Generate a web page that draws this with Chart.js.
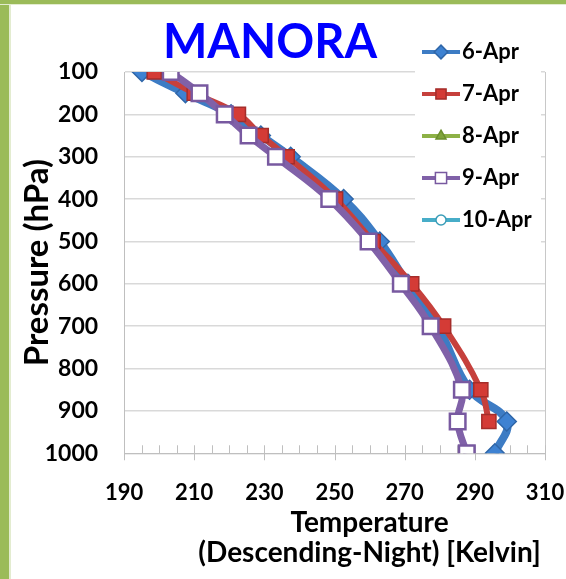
<!DOCTYPE html>
<html>
<head>
<meta charset="utf-8">
<script src="https://cdn.jsdelivr.net/npm/chart.js@4.4.1/dist/chart.umd.min.js"></script>
<style>
  html, body { margin: 0; padding: 0; background: #fff; }
  #wrap { position: relative; width: 566px; height: 579px; overflow: hidden; background: #fff; }
  #wrap canvas { position: absolute; left: 0; top: 0; }
  .frame { position: absolute; background: #9BBB59; }
  #frameLeft { left: 0; top: 0; width: 9px; height: 579px; box-shadow: 2px 0 0 #e3ecd0; }
  #frameTop { left: 0; top: 0; width: 566px; height: 4px; box-shadow: 0 1px 0 #e3ecd0; }
</style>
</head>
<body>
<div id="wrap">
  <canvas id="chart" width="566" height="579"></canvas>
  <div class="frame" id="frameLeft"></div>
  <div class="frame" id="frameTop"></div>
</div>
<script>
// Sounding levels (hPa) and temperature profiles (K) for each night
const pressureLevels = [100, 150, 200, 250, 300, 400, 500, 600, 700, 850, 925, 1000];
const seriesNames = ['6-Apr', '7-Apr', '8-Apr', '9-Apr', '10-Apr'];
const temp6Apr  = [195.1, 207.5, 220.5, 229.0, 237.5, 252.6, 262.9, 270.9, 279.4, 288.5, 299.1, 295.7];
const temp7Apr  = [198.6, 210.0, 222.6, 229.1, 236.5, 250.3, 261.0, 272.0, 281.1, 291.7, 294.0, null];
const temp8Apr  = [];
const temp9Apr  = [203.3, 211.5, 218.7, 225.5, 233.3, 248.5, 259.7, 268.9, 277.4, 286.3, 285.1, 287.7];
const temp10Apr = [];
const xTickLabels = [190, 210, 230, 250, 270, 290, 310];
const yTickLabels = [100, 200, 300, 400, 500, 600, 700, 800, 900, 1000];

const FONT = 'Lato, "Open Sans", "DejaVu Sans", sans-serif';
const AXIS_GREY = '#BFBFBF';

function profile(temps) {
  return pressureLevels
    .map((p, i) => ({ x: temps[i], y: p }))
    .filter(d => d.x !== null && d.x !== undefined);
}

const styles = [
  { line: '#3D7CC4', fill: '#3E82D2', edge: '#2F66A8', shape: 'rectRot', r: 9.5, lw: 8, pbw: 1.5, order: 4 },
  { line: '#C6403C', fill: '#D43B36', edge: '#A52D2A', shape: 'rect',    r: 10,  lw: 6, pbw: 1.5, order: 3 },
  { line: '#8DB146', fill: '#7FA43A', edge: '#6B8E2E', shape: 'triangle', r: 8,  lw: 6, pbw: 1.5, order: 2 },
  { line: '#8061A8', fill: '#FFFFFF', edge: '#7859A0', shape: 'rect',    r: 11,  lw: 7, pbw: 2.5, order: 1 },
  { line: '#47ADC8', fill: '#FFFFFF', edge: '#3A9DB8', shape: 'circle',  r: 7,   lw: 6, pbw: 2, order: 0 }
];
const profiles = [temp6Apr, temp7Apr, temp8Apr, temp9Apr, temp10Apr];

// Line-with-marker sample used as the legend symbol of each series
function legendIcon(s) {
  const c = document.createElement('canvas');
  c.width = 38; c.height = 20;
  const g = c.getContext('2d');
  g.strokeStyle = s.line;
  g.lineWidth = 4;
  g.beginPath(); g.moveTo(0, 10); g.lineTo(38, 10); g.stroke();
  g.fillStyle = s.fill;
  g.strokeStyle = s.edge;
  g.lineWidth = 1.5;
  Chart.helpers.drawPoint(g, { pointStyle: s.shape, radius: s.r * 0.72, rotation: 0, borderWidth: 1.5 }, 19, 10);
  return c;
}
const icons = styles.map(legendIcon);

const datasets = seriesNames.map((name, i) => ({
  label: name,
  data: profile(profiles[i]),
  borderColor: styles[i].line,
  backgroundColor: styles[i].fill,
  borderWidth: styles[i].lw,
  tension: 0.4,
  pointStyle: styles[i].shape,
  pointRadius: styles[i].r,
  pointBackgroundColor: styles[i].fill,
  pointBorderColor: styles[i].edge,
  pointBorderWidth: styles[i].pbw,
  order: styles[i].order
}));

// Places title and legend, paints the legend panel, plot frame and axis tick marks
const frameAndLegend = {
  id: 'frameAndLegend',
  afterLayout(chart) {
    const ca = chart.chartArea;
    const lg = chart.legend;
    const h = lg.height, w = lg.width;
    lg.left = ca.right - 134; lg.right = lg.left + w;
    lg.top = 21; lg.bottom = lg.top + h;
    const t = chart.titleBlock;
    const tw = t.right - t.left;
    const cx = 270;
    t.left = cx - tw / 2; t.right = cx + tw / 2;
    // the temperature axis title sits a little right of the plot centre
    const xs = chart.scales.x;
    if (!xs.__shiftedTitle) {
      const drawTitle = xs.drawTitle;
      xs.drawTitle = function () {
        this.ctx.save();
        this.ctx.translate(35, 0);
        drawTitle.call(this);
        this.ctx.restore();
      };
      xs.__shiftedTitle = true;
    }
  },
  beforeDatasetsDraw(chart) {
    const { ctx, chartArea: ca } = chart;
    const lg = chart.legend;
    ctx.save();
    ctx.lineWidth = 1;
    // plot area right edge
    ctx.strokeStyle = '#C8C8C8';
    ctx.beginPath();
    ctx.moveTo(Math.round(ca.right) + 0.5, ca.top);
    ctx.lineTo(Math.round(ca.right) + 0.5, ca.bottom);
    ctx.stroke();
    // legend panel
    const boxes = lg.legendHitBoxes;
    const last = boxes[boxes.length - 1];
    const px0 = lg.left + 4, py0 = lg.top + 9;
    ctx.fillStyle = '#FFFFFF';
    ctx.fillRect(px0, py0, ca.right - 4 - px0, last.top + last.height + 16 - py0);
    // tick marks along the temperature axis: all inside, labelled ones also crossing below
    const xs = chart.scales.x;
    ctx.strokeStyle = AXIS_GREY;
    ctx.beginPath();
    xs.ticks.forEach(tk => {
      const px = Math.round(xs.getPixelForValue(tk.value)) + 0.5;
      const major = xTickLabels.includes(tk.value);
      ctx.moveTo(px, ca.bottom - 8);
      ctx.lineTo(px, ca.bottom + (major ? 7 : 0));
    });
    ctx.stroke();
    ctx.restore();
    lg.draw();
  }
};

new Chart(document.getElementById('chart'), {
  type: 'line',
  data: { datasets },
  plugins: [frameAndLegend],
  options: {
    responsive: false,
    animation: false,
    devicePixelRatio: 1,
    layout: { autoPadding: false, padding: { top: 0, right: 21, bottom: 4, left: 12 } },
    plugins: {
      tooltip: { enabled: false },
      title: {
        display: true,
        text: 'MANORA',
        color: '#0000FF',
        font: { family: FONT, size: 47, weight: 'bold', lineHeight: 1.2 },
        padding: { top: 14.8, bottom: 0.8 }
      },
      legend: {
        display: true,
        position: 'chartArea',
        align: 'start',
        labels: {
          usePointStyle: true,
          pointStyleWidth: 20,
          padding: 20,
          color: '#000',
          font: { family: FONT, size: 22, weight: 'bold' },
          generateLabels(chart) {
            const items = Chart.defaults.plugins.legend.labels.generateLabels(chart);
            items.forEach(it => { it.pointStyle = icons[it.datasetIndex]; });
            return items;
          },
          sort: (a, b) => a.datasetIndex - b.datasetIndex
        }
      }
    },
    scales: {
      x: {
        type: 'linear',
        min: xTickLabels[0],
        max: xTickLabels[xTickLabels.length - 1],
        ticks: {
          stepSize: 5,
          autoSkip: false,
          maxRotation: 0,
          padding: 0,
          color: '#000',
          font: { family: FONT, size: 22, weight: 'bold', lineHeight: 1.2 },
          callback: v => (xTickLabels.includes(v) ? String(v) : '')
        },
        grid: {
          display: true,
          drawOnChartArea: false,
          drawTicks: true,
          tickLength: 26.8,
          tickColor: 'rgba(0,0,0,0)'
        },
        border: { display: true, color: AXIS_GREY, width: 1 },
        title: {
          display: true,
          text: ['Temperature', '(Descending-Night) [Kelvin]'],
          color: '#000',
          font: { family: FONT, size: 28, weight: 'bold', lineHeight: 1.07 },
          padding: { top: 1.6, bottom: 7 }
        }
      },
      y: {
        type: 'linear',
        reverse: true,
        min: yTickLabels[0],
        max: yTickLabels[yTickLabels.length - 1],
        ticks: {
          stepSize: 100,
          padding: 0,
          color: '#000',
          font: { family: FONT, size: 23, weight: 'bold', lineHeight: 1.2 },
          callback: v => String(v)
        },
        grid: { color: '#D9D9D9', lineWidth: 1.5, drawTicks: true, tickLength: 26, tickColor: 'rgba(0,0,0,0)' },
        border: { display: true, color: AXIS_GREY, width: 1 },
        title: {
          display: true,
          text: 'Pressure (hPa)',
          color: '#000',
          font: { family: FONT, size: 33, weight: 'bold', lineHeight: 0.8 },
          padding: { top: 11.8, bottom: -5.5 }
        }
      }
    }
  }
});
</script>
</body>
</html>
